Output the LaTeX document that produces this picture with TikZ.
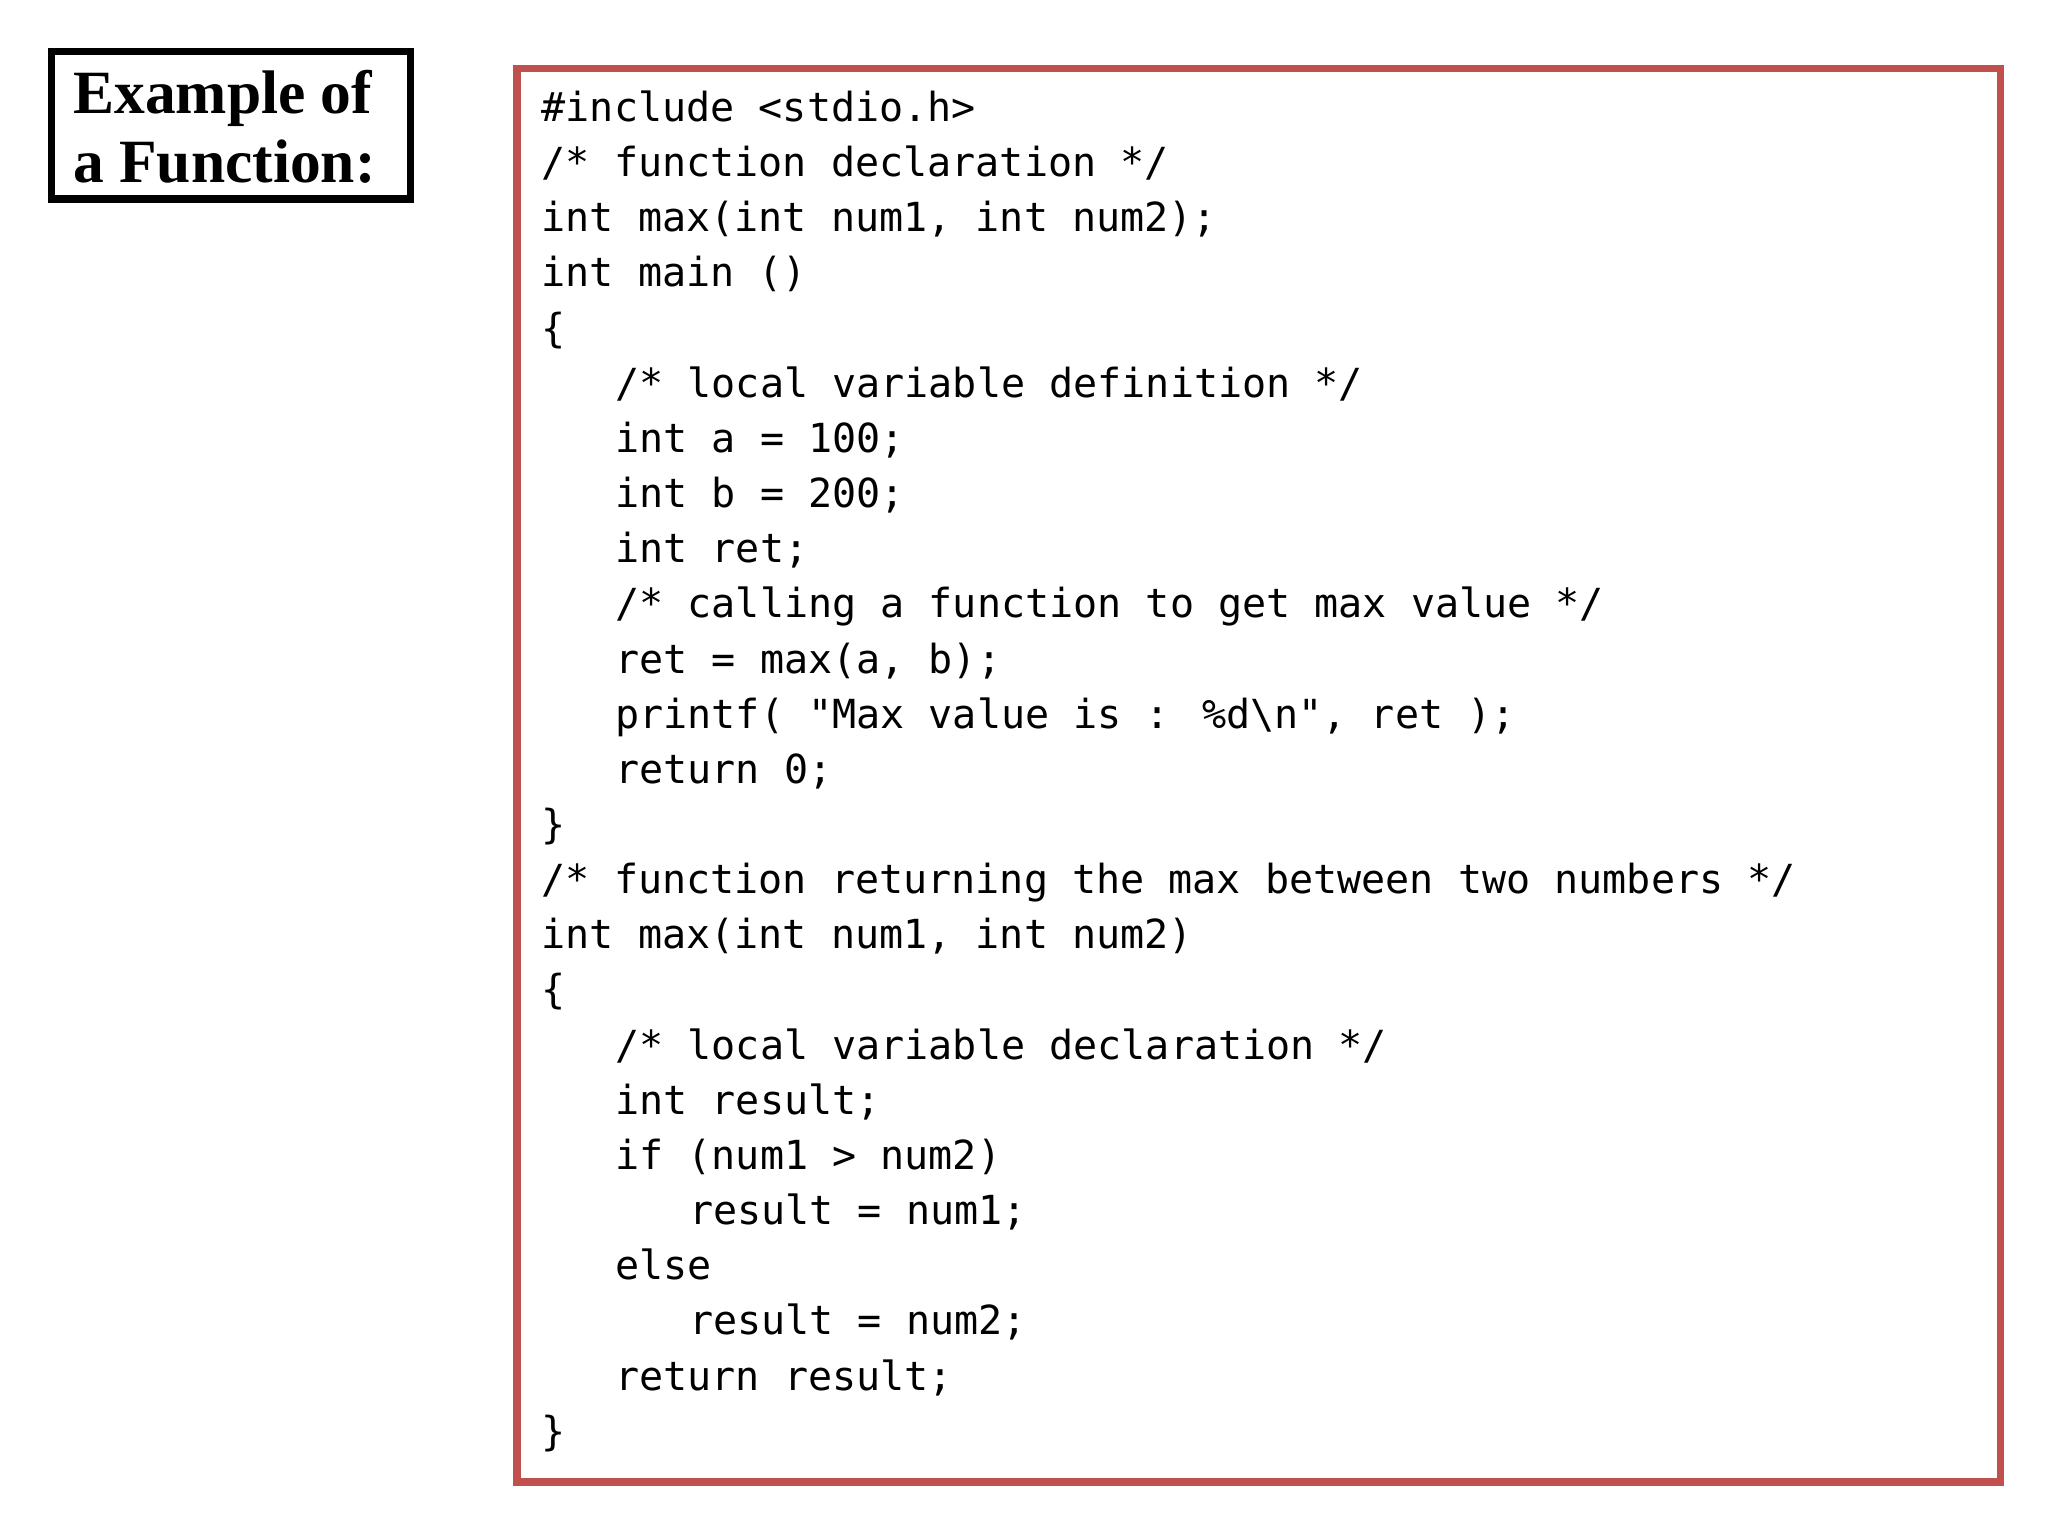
\documentclass[tikz,border=0pt]{standalone}
\usepackage{fontspec}
\setmainfont{Liberation Serif}
\newfontfamily\codefont{DejaVu Sans Mono}
\begin{document}
\begin{tikzpicture}[x=0.013196cm,y=-0.013196cm,
  code/.style={anchor=base west,inner sep=0pt,font=\codefont\fontsize{11.4pt}{13pt}\selectfont},
  titlebox/.style={draw=black,line width=2.2pt},
  codebox/.style={draw={rgb,255:red,192;green,80;blue,77},line width=2.2pt}]
\useasboundingbox (0,0) rectangle (1552,1164);
\draw[titlebox] (39,39) rectangle (311,151);
\node[anchor=west,align=left,inner sep=0pt,font=\bfseries\fontsize{17.5pt}{19.5pt}\selectfont] (title) at (55,96) {Example of\\a Function:};
\draw[codebox] (392,52) rectangle (1516,1123);
\def\ls{41.8}
\def\ind{55.8}
\node[code] (l1) at (410,92) {\#include <stdio.h>};
\node[code] (l2) at (410,92+1*\ls) {/* function declaration */};
\node[code] (l3) at (410,92+2*\ls) {int max(int num1, int num2);};
\node[code] (l4) at (410,92+3*\ls) {int main ()};
\node[code] (l5) at (410,92+4*\ls) {\{};
\node[code] (l6) at (410+\ind,92+5*\ls) {/* local variable definition */};
\node[code] (l7) at (410+\ind,92+6*\ls) {int a = 100;};
\node[code] (l8) at (410+\ind,92+7*\ls) {int b = 200;};
\node[code] (l9) at (410+\ind,92+8*\ls) {int ret;};
\node[code] (l10) at (410+\ind,92+9*\ls) {/* calling a function to get max value */};
\node[code] (l11) at (410+\ind,92+10*\ls) {ret = max(a, b);};
\node[code] (l12) at (410+\ind,92+11*\ls) {printf( "Max value is : \%d\textbackslash n", ret );};
\node[code] (l13) at (410+\ind,92+12*\ls) {return 0;};
\node[code] (l14) at (410,92+13*\ls) {\}};
\node[code] (l15) at (410,92+14*\ls) {/* function returning the max between two numbers */};
\node[code] (l16) at (410,92+15*\ls) {int max(int num1, int num2)};
\node[code] (l17) at (410,92+16*\ls) {\{};
\node[code] (l18) at (410+\ind,92+17*\ls) {/* local variable declaration */};
\node[code] (l19) at (410+\ind,92+18*\ls) {int result;};
\node[code] (l20) at (410+\ind,92+19*\ls) {if (num1 > num2)};
\node[code] (l21) at (410+2*\ind,92+20*\ls) {result = num1;};
\node[code] (l22) at (410+\ind,92+21*\ls) {else};
\node[code] (l23) at (410+2*\ind,92+22*\ls) {result = num2;};
\node[code] (l24) at (410+\ind,92+23*\ls) {return result;};
\node[code] (l25) at (410,92+24*\ls) {\}};
\end{tikzpicture}
\end{document}
